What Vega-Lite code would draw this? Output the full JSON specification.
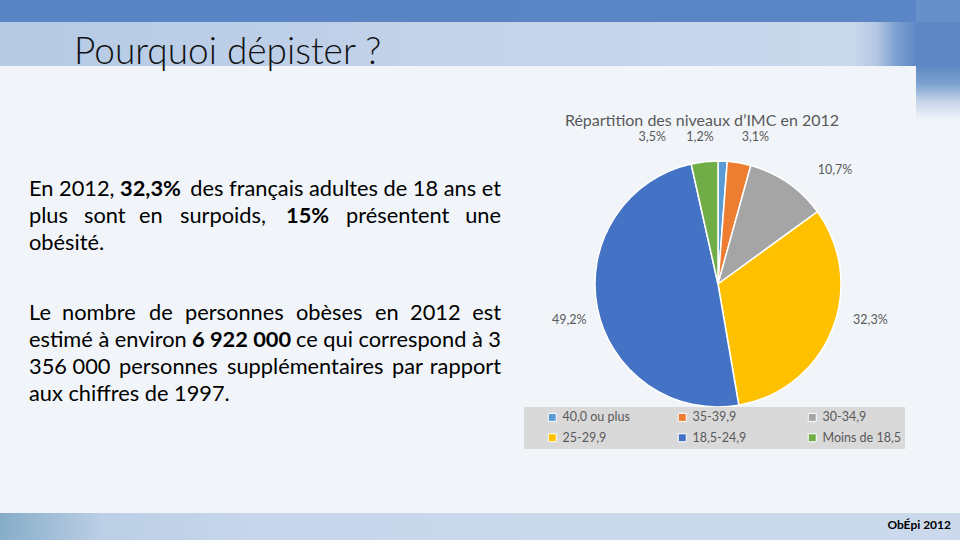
{
  "$schema": "https://vega.github.io/schema/vega-lite/v6.json",
  "background": "#f1f5fa",
  "padding": 0,
  "config": {
    "view": {"stroke": null},
    "concat": {"spacing": 0},
    "text": {"font": "Lato", "fontSize": 21.8, "color": "#000000", "align": "left", "baseline": "alphabetic"}
  },
  "columns": 3,
  "align": "each",
  "bounds": "flush",
  "spacing": 0,
  "concat": [
    {
      "width": 520, "height": 22,
      "view": {"fill": "#5985c5", "stroke": null},
      "data": {"values": []},
      "mark": {"type": "text", "text": ""}
    },
    {
      "width": 396, "height": 22,
      "view": {"fill": "#5a86c5", "stroke": null},
      "data": {"values": []},
      "mark": {"type": "text", "text": ""}
    },
    {
      "width": 44, "height": 22,
      "view": {"fill": "#6590c8", "stroke": null},
      "data": {"values": []},
      "mark": {"type": "text", "text": ""}
    },
    {
      "width": 520, "height": 44,
      "view": {"fill": {"gradient": "linear", "x1": 0, "y1": 0, "x2": 1, "y2": 0,
        "stops": [
          {"offset": 0, "color": "#b6cae5"},
          {"offset": 1, "color": "#c4d4ea"}
        ]}, "stroke": null},
      "data": {"values": [{}]},
      "mark": {"type": "text", "text": "Pourquoi dépister ?", "x": 74, "y": 42, "fontSize": 37, "fontWeight": 300, "color": "#111111"}
    },
    {
      "width": 396, "height": 44,
      "view": {"fill": {"gradient": "linear", "x1": 0, "y1": 0, "x2": 1, "y2": 0,
        "stops": [
          {"offset": 0, "color": "#c4d4ea"},
          {"offset": 0.84, "color": "#cad8ec"},
          {"offset": 0.9, "color": "#b3c7e3"},
          {"offset": 0.95, "color": "#7ba0d0"},
          {"offset": 1, "color": "#6089c5"}
        ]}, "stroke": null},
      "data": {"values": []},
      "mark": {"type": "text", "text": ""}
    },
    {
      "width": 44, "height": 44,
      "view": {"fill": "#5d88c5", "stroke": null},
      "data": {"values": []},
      "mark": {"type": "text", "text": ""}
    },
    {
      "width": 520, "height": 447,
      "data": {"values": [{}]},
      "layer": [
        {"mark": {"type": "text", "text": "En 2012,", "x": 29, "y": 130}},
        {"mark": {"type": "text", "text": "32,3%", "x": 120, "y": 130, "fontWeight": "bold"}},
        {"mark": {"type": "text", "text": "des français adultes de 18 ans et", "x": 501, "y": 130, "align": "right"}},
        {"mark": {"type": "text", "text": "plus", "x": 29, "y": 157}},
        {"mark": {"type": "text", "text": "sont", "x": 84, "y": 157}},
        {"mark": {"type": "text", "text": "en", "x": 139, "y": 157}},
        {"mark": {"type": "text", "text": "surpoids,", "x": 180, "y": 157}},
        {"mark": {"type": "text", "text": "15%", "x": 286, "y": 157, "fontWeight": "bold"}},
        {"mark": {"type": "text", "text": "présentent", "x": 346, "y": 157}},
        {"mark": {"type": "text", "text": "une", "x": 501, "y": 157, "align": "right"}},
        {"mark": {"type": "text", "text": "obésité.", "x": 29, "y": 184}},
        {"mark": {"type": "text", "text": "Le", "x": 29, "y": 254}},
        {"mark": {"type": "text", "text": "nombre", "x": 62, "y": 254}},
        {"mark": {"type": "text", "text": "de", "x": 149, "y": 254}},
        {"mark": {"type": "text", "text": "personnes", "x": 185, "y": 254}},
        {"mark": {"type": "text", "text": "obèses", "x": 296, "y": 254}},
        {"mark": {"type": "text", "text": "en", "x": 375, "y": 254}},
        {"mark": {"type": "text", "text": "2012", "x": 410, "y": 254}},
        {"mark": {"type": "text", "text": "est", "x": 501, "y": 254, "align": "right"}},
        {"mark": {"type": "text", "text": "estimé à environ", "x": 29, "y": 281}},
        {"mark": {"type": "text", "text": "6 922 000", "x": 192, "y": 281, "fontWeight": "bold"}},
        {"mark": {"type": "text", "text": "ce qui correspond à 3", "x": 501, "y": 281, "align": "right"}},
        {"mark": {"type": "text", "text": "356 000", "x": 29, "y": 308}},
        {"mark": {"type": "text", "text": "personnes", "x": 119, "y": 308}},
        {"mark": {"type": "text", "text": "supplémentaires", "x": 227, "y": 308}},
        {"mark": {"type": "text", "text": "par", "x": 392, "y": 308}},
        {"mark": {"type": "text", "text": "rapport", "x": 501, "y": 308, "align": "right"}},
        {"mark": {"type": "text", "text": "aux chiffres de 1997.", "x": 29, "y": 335}}
      ]
    },
    {
      "width": 396, "height": 436,
      "data": {"values": [
        {"cat": "40,0 ou plus", "pct": 1.2, "order": 1, "label": "1,2%"},
        {"cat": "35-39,9", "pct": 3.1, "order": 2, "label": "3,1%"},
        {"cat": "30-34,9", "pct": 10.7, "order": 3, "label": "10,7%"},
        {"cat": "25-29,9", "pct": 32.3, "order": 4, "label": "32,3%"},
        {"cat": "18,5-24,9", "pct": 49.2, "order": 5, "label": "49,2%"},
        {"cat": "Moins de 18,5", "pct": 3.5, "order": 6, "label": "3,5%"}
      ]},
      "layer": [
        {
          "transform": [{"stack": "pct", "groupby": [], "sort": [{"field": "order", "order": "ascending"}], "as": ["t0", "t1"]}],
          "mark": {"type": "arc", "outerRadius": 123, "stroke": "#ffffff", "strokeWidth": 1.5},
          "encoding": {
            "theta": {"field": "t0", "type": "quantitative", "stack": null, "scale": {"domain": [0, 100]}},
            "theta2": {"field": "t1"},
            "color": {
              "field": "cat", "type": "nominal",
              "scale": {
                "domain": ["40,0 ou plus", "35-39,9", "30-34,9", "25-29,9", "18,5-24,9", "Moins de 18,5"],
                "range": ["#5b9bd5", "#ed7d31", "#a5a5a5", "#ffc000", "#4472c4", "#70ad47"]
              },
              "legend": {
                "orient": "none", "legendX": 524, "legendY": 407,
                "direction": "horizontal", "columns": 3, "title": null,
                "symbolType": "square", "symbolSize": 64,
                "symbolStrokeColor": "#ffffff", "symbolStrokeWidth": 1,
                "labelFont": "Lato", "labelFontSize": 12.5, "labelColor": "#595959",
                "fillColor": "#d9d9d9", "padding": 4, "rowPadding": 7.5,
                "columnPadding": 17, "gridAlign": "all", "symbolOffset": 18, "labelOffset": 4
              }
            }
          }
        },
        {
          "data": {"values": [{}]},
          "mark": {"type": "text", "text": "Répartition des niveaux d’IMC en 2012", "x": 182, "y": 60, "align": "center", "fontSize": 16, "color": "#595959"}
        },
        {
          "transform": [{"stack": "pct", "groupby": [], "sort": [{"field": "order", "order": "ascending"}], "as": ["t0", "t1"]}, {"filter": "datum.cat === '40,0 ou plus'"}],
          "mark": {"type": "text", "radius": 150, "dx": -18, "dy": 3, "align": "center", "baseline": "middle", "fontSize": 12.5, "color": "#595959"},
          "encoding": {"theta": {"field": "t0", "type": "quantitative", "stack": null}, "text": {"field": "label", "type": "nominal"}}
        },
        {
          "transform": [{"stack": "pct", "groupby": [], "sort": [{"field": "order", "order": "ascending"}], "as": ["t0", "t1"]}, {"filter": "datum.cat === '35-39,9'"}],
          "mark": {"type": "text", "radius": 150, "dx": 26, "dy": 3, "align": "center", "baseline": "middle", "fontSize": 12.5, "color": "#595959"},
          "encoding": {"theta": {"field": "t0", "type": "quantitative", "stack": null}, "text": {"field": "label", "type": "nominal"}}
        },
        {
          "transform": [{"stack": "pct", "groupby": [], "sort": [{"field": "order", "order": "ascending"}], "as": ["t0", "t1"]}, {"filter": "datum.cat === '30-34,9'"}],
          "mark": {"type": "text", "radius": 150, "dx": 77, "dy": 31, "align": "center", "baseline": "middle", "fontSize": 12.5, "color": "#595959"},
          "encoding": {"theta": {"field": "t0", "type": "quantitative", "stack": null}, "text": {"field": "label", "type": "nominal"}}
        },
        {
          "transform": [{"stack": "pct", "groupby": [], "sort": [{"field": "order", "order": "ascending"}], "as": ["t0", "t1"]}, {"filter": "datum.cat === '25-29,9'"}],
          "mark": {"type": "text", "radius": 150, "dx": 31, "dy": 124, "align": "center", "baseline": "middle", "fontSize": 12.5, "color": "#595959"},
          "encoding": {"theta": {"field": "t0", "type": "quantitative", "stack": null}, "text": {"field": "label", "type": "nominal"}}
        },
        {
          "transform": [{"stack": "pct", "groupby": [], "sort": [{"field": "order", "order": "ascending"}], "as": ["t0", "t1"]}, {"filter": "datum.cat === '18,5-24,9'"}],
          "mark": {"type": "text", "radius": 150, "dx": -174, "dy": -112, "align": "center", "baseline": "middle", "fontSize": 12.5, "color": "#595959"},
          "encoding": {"theta": {"field": "t0", "type": "quantitative", "stack": null}, "text": {"field": "label", "type": "nominal"}}
        },
        {
          "transform": [{"stack": "pct", "groupby": [], "sort": [{"field": "order", "order": "ascending"}], "as": ["t0", "t1"]}, {"filter": "datum.cat === 'Moins de 18,5'"}],
          "mark": {"type": "text", "radius": 150, "dx": -33, "dy": -1, "align": "center", "baseline": "middle", "fontSize": 12.5, "color": "#595959"},
          "encoding": {"theta": {"field": "t0", "type": "quantitative", "stack": null}, "text": {"field": "label", "type": "nominal"}}
        }
      ]
    },
    {
      "width": 44, "height": 447,
      "view": {"fill": {"gradient": "linear", "x1": 0, "y1": 0, "x2": 0, "y2": 1,
        "stops": [
          {"offset": 0, "color": "#5f89c5"},
          {"offset": 0.04, "color": "#7ea2d1"},
          {"offset": 0.08, "color": "#c6d5ea"},
          {"offset": 0.12, "color": "#f1f5fa"},
          {"offset": 1, "color": "#f1f5fa"}
        ]}, "stroke": null},
      "data": {"values": []},
      "mark": {"type": "text", "text": ""}
    },
    {
      "width": 520, "height": 27,
      "view": {"fill": {"gradient": "linear", "x1": 0, "y1": 0, "x2": 1, "y2": 0,
        "stops": [
          {"offset": 0, "color": "#86adc8"},
          {"offset": 0.2, "color": "#bccfe6"},
          {"offset": 0.5, "color": "#c7d6eb"},
          {"offset": 1, "color": "#cad8ec"}
        ]}, "stroke": null},
      "data": {"values": []},
      "mark": {"type": "text", "text": ""}
    },
    {
      "width": 396, "height": 27,
      "view": {"fill": "#cbd9ec", "stroke": null},
      "data": {"values": []},
      "mark": {"type": "text", "text": ""}
    },
    {
      "width": 44, "height": 27,
      "view": {"fill": "#ccd9ed", "stroke": null},
      "data": {"values": [{}]},
      "mark": {"type": "text", "text": "ObÉpi 2012", "x": 35, "y": 16, "align": "right", "fontSize": 12, "fontWeight": "bold"}
    }
  ]
}
